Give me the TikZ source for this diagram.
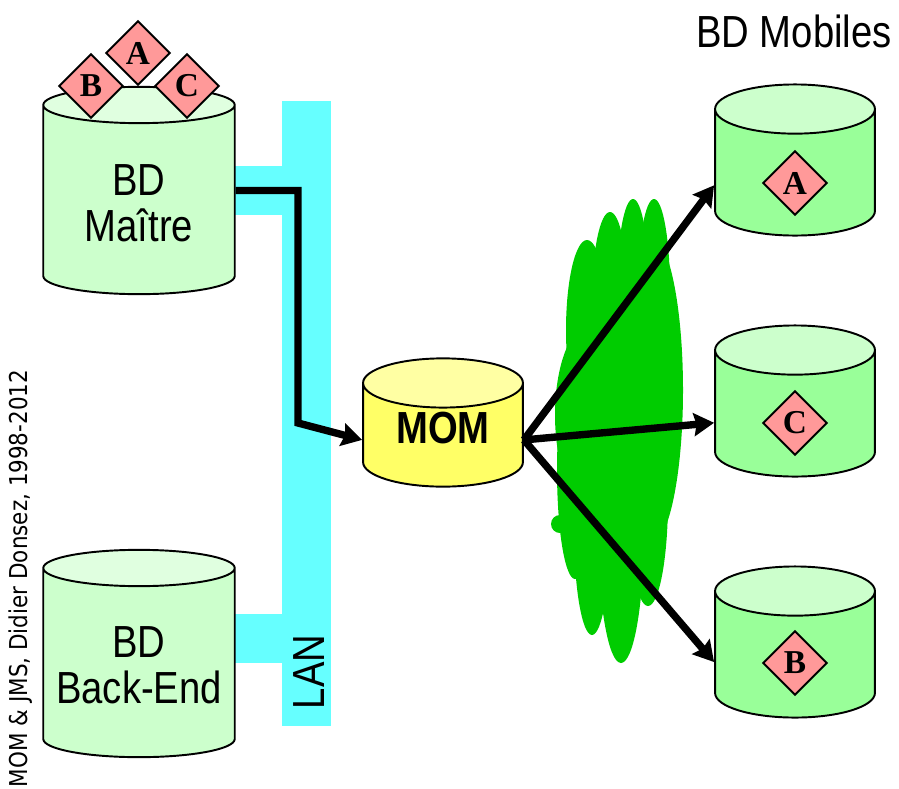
\documentclass[tikz,border=0pt]{standalone}
\usepackage{fontspec}
\usetikzlibrary{arrows.meta}
\usetikzlibrary{backgrounds}
\usetikzlibrary{calc}
\usetikzlibrary{shapes.geometric}
\setmainfont{Liberation Serif}
\newfontfamily\narrowsf[FakeStretch=0.85]{Liberation Sans}
\newfontfamily\signfont[FakeStretch=0.873]{DejaVu Sans}

\begin{document}
\begin{tikzpicture}[x=0.02cm, y=-0.02cm]

% Define styles
\tikzset{
    database/.style={draw=black, line width=1.1pt, cylinder, shape border rotate=90, anchor=shape center, cylinder uses custom fill, minimum width=#1},
    bigdb/.style={database=109pt, minimum height=118pt, shape aspect=3.1, cylinder body fill=dbgreen, cylinder end fill=dbgreen!60!white},
    mobiledb/.style={database=91pt, minimum height=86pt, shape aspect=4.2, cylinder body fill=mobgreen, cylinder end fill=mobgreen!50!white},
    momdb/.style={database=91pt, minimum height=73pt, shape aspect=4.2, cylinder body fill=momyellow, cylinder end fill=momyellow!60!white},
    table/.style={draw=black, line width=1.1pt, fill=tablepink, diamond, shape aspect=1, inner sep=0pt, minimum width=36.5pt, minimum height=36.5pt, font=\fontsize{19}{19}\selectfont\bfseries},
    dblabel/.style={font=\fontsize{25.6}{26}\selectfont\narrowsf, align=center, inner sep=0pt},
    lanlink/.style={lancyan, line width=27.9pt},
    flow/.style={line width=4.2pt, -{Stealth[length=11.5pt, width=13pt, inset=1.5pt]}}
}
\definecolor{dbgreen}{HTML}{CCFFCC}
\definecolor{mobgreen}{HTML}{99FF99}
\definecolor{momyellow}{HTML}{FFFF66}
\definecolor{tablepink}{HTML}{FF9999}
\definecolor{lancyan}{HTML}{66FFFF}
\definecolor{cloudgreen}{HTML}{00CC00}

% zeige das ganze Bild
\useasboundingbox (0,0) rectangle (899,788);

% LAN
\node[fill=lancyan, inner sep=0pt, minimum width=27.9pt, minimum height=355.7pt] (lan) at (306.5,413.5) {};

% Cloud
\foreach \cx/\cy/\rx/\ry in {654/290/16/91, 633/290/16/91, 610/300/18/88, 587/330/21/90,
    650/390/33/155, 590/415/35/90, 575/470/18/109, 592/530/18/105,
    621/530/23/133, 648/500/20/106, 620/400/50/120, 560/524/9/9}
    \fill[cloudgreen] (\cx,\cy) ellipse [x radius=\rx, y radius=\ry];

% Databases
\node[bigdb] (master) at (139,190.5) {};
\node[bigdb] (backend) at (139,653.5) {};
\node[momdb] (mom) at (443,422.5) {};
\node[mobiledb] (mobileA) at (795,160) {};
\node[mobiledb] (mobileC) at (795,401) {};
\node[mobiledb] (mobileB) at (795,642) {};

% Links to the LAN
\begin{scope}[on background layer]
\coordinate (masterlink) at (master.shape center);
\draw[lanlink] (masterlink) -- (masterlink -| lan.center);
\coordinate (backendlink) at ($(backend.shape center)+(0,-15)$);
\draw[lanlink] (backendlink) -- (backendlink -| lan.center);
\end{scope}

% Labels
\node[dblabel] (masterlabel) at ($(master.shape center)+(0,13)$) {BD\\Maître};
\node[dblabel] (backendlabel) at ($(backend.shape center)+(0,12)$) {BD\\Back-End};
\node[dblabel, font=\fontsize{25.6}{26}\selectfont\narrowsf\bfseries] (momlabel) at ($(mom.shape center)+(0,6)$) {MOM};
\node[dblabel, rotate=90] (lanlabel) at (309,672) {LAN};
\node[dblabel] (title) at (794,31) {BD Mobiles};
\node[inner sep=0pt, rotate=90, font=\fontsize{14}{14}\selectfont\signfont] (sign) at (21,578.5) {MOM \& JMS, Didier Donsez, 1998-2012};

% Tables on the master
\node[table] (tableA) at (138,53) {A};
\node[table] (tableB) at (91,86) {B};
\node[table] (tableC) at (187,86) {C};

% Tables on the mobiles
\node[table] (copyA) at (795,183) {A};
\node[table] (copyC) at (795,423) {C};
\node[table] (copyB) at (795,663) {B};

% Flows
\draw[flow] (masterlink -| master.east) -| (298,423) -- (mom.west);
\draw[flow] (mom.east) -- ([yshift=-4.5pt]mobileA.west);
\draw[flow] (mom.east) -- ([yshift=-2.5pt]mobileC.west);
\draw[flow] (mom.east) -- ([yshift=-1.5pt]mobileB.west);

\end{tikzpicture}
\end{document}
